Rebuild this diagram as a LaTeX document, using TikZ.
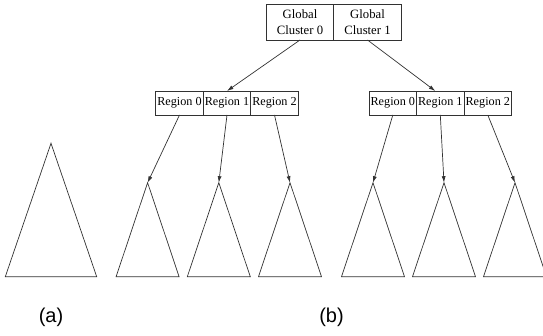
\documentclass[tikz,border=0pt]{standalone}
\usepackage{fontspec}
\setmainfont{Liberation Serif}
\newfontfamily\labelfont{Liberation Sans}
\usetikzlibrary{arrows.meta, positioning}
\definecolor{edgegray}{RGB}{50, 50, 50}
\tikzset{
  cellbox/.style={draw=edgegray, line width=0.7pt, minimum width=47.5pt, minimum height=24pt,
    inner sep=0pt, outer sep=0pt, font=\fontsize{12.2}{14}\selectfont},
  globalbox/.style={draw=edgegray, line width=0.7pt, minimum width=67.5pt, minimum height=36pt,
    inner sep=0pt, outer sep=0pt, align=center, font=\fontsize{12.7}{16}\selectfont},
  link/.style={draw=edgegray, line width=0.7pt, -{Latex[length=6.5pt, width=4pt]}},
  tree/.style={draw=edgegray, line width=0.7pt},
  caption/.style={font=\labelfont\fontsize{20}{24}\selectfont}
}

\begin{document}
\begin{tikzpicture}[x=1pt, y=-1pt]
  \useasboundingbox (0,0) rectangle (543,336);
  % global clusters
  \node[globalbox] (g0) at (300,22) {Global\\Cluster 0};
  \node[globalbox, right=0pt of g0] (g1) {Global\\Cluster 1};
  % regions
  \foreach \grp/\x in {l/179.5, r/392.8}{
    \node[cellbox] (\grp0) at (\x,103) {Region 0};
    \node[cellbox, right=0pt of \grp0] (\grp1) {Region 1};
    \node[cellbox, right=0pt of \grp1] (\grp2) {Region 2};
  }
  % trees
  \coordinate (ta) at (51,143.3);
  \draw[tree] (ta) -- ++(-45.7,133.4) -- ++(91.4,0) -- cycle;
  \foreach \n/\x in {l0/147.6, l1/218.8, l2/290, r0/373, r1/444, r2/515}{
    \coordinate (t\n) at (\x,182.7);
    \draw[tree] (t\n) -- ++(-31.5,94) -- ++(63,0) -- cycle;
    \draw[link] (\n.south) -- (t\n);
  }
  \draw[link] (g0.south) -- (l1.north);
  \draw[link] (g1.south) -- ([xshift=-5pt]r1.north);
  \node[caption] (capa) at (51,317) {(a)};
  \node[caption] (capb) at (331.5,317) {(b)};
\end{tikzpicture}
\end{document}
